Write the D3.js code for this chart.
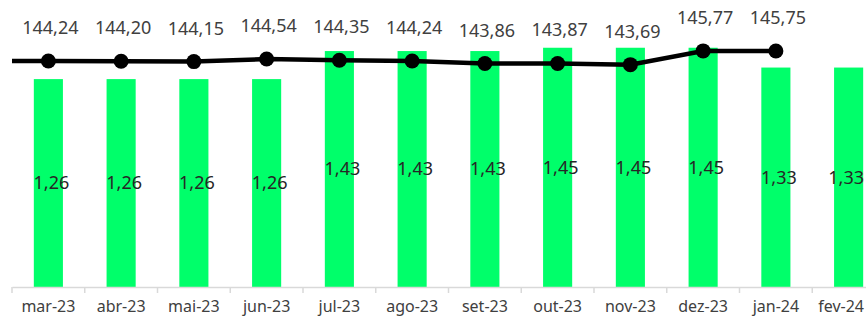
<!DOCTYPE html>
<html>
<head>
<meta charset="utf-8">
<script src="https://cdn.jsdelivr.net/npm/d3@7"></script>
<style>
  body { margin: 0; background: #fff; }
  text { font-family: "Noto Sans", sans-serif; }
</style>
</head>
<body>
<div class="canvas"></div>
<script>
// Data
const months = ['mar-23', 'abr-23', 'mai-23', 'jun-23', 'jul-23', 'ago-23', 'set-23', 'out-23', 'nov-23', 'dez-23', 'jan-24', 'fev-24']
const barValues = [1.26, 1.26, 1.26, 1.26, 1.43, 1.43, 1.43, 1.45, 1.45, 1.45, 1.33, 1.33]
const lineValues = [144.24, 144.20, 144.15, 144.54, 144.35, 144.24, 143.86, 143.87, 143.69, 145.77, 145.75]

const fmt = v => d3.format(',.2f')(v).replace('.', ',')

// Svg
const width = 866, height = 317
const svg = d3.select('.canvas')
    .append('svg')
        .attr('width', width)
        .attr('height', height)

const plot = {left: 12, right: 885, top: 23, bottom: 287}

// Scales
const x = d3.scaleBand()
    .domain(months)
    .range([plot.left, plot.right])
    .paddingInner(0.6)
    .paddingOuter(0.3)

const xb = d3.scaleBand()
    .domain(months)
    .range([plot.left, plot.right])

const y = d3.scaleLinear()
    .domain([0, 1.6])
    .range([plot.bottom, plot.top])

const y2 = d3.scaleLinear()
    .domain([110, 150])
    .range([plot.bottom, plot.top])

// Bars
svg.append('g').selectAll('rect')
    .data(barValues)
    .enter()
    .append('rect')
        .attr('x', (d, i) => x(months[i]))
        .attr('width', x.bandwidth())
        .attr('y', d => y(d))
        .attr('height', d => y(0) - y(d))
        .attr('fill', '#00ff6a')

// Bar labels (centred in the bar)
svg.append('g').attr('class', 'fit').selectAll('text')
    .data(barValues)
    .enter()
    .append('text')
        .attr('x', (d, i) => xb(months[i]) + xb.bandwidth() / 2 + 3)
        .attr('y', d => (y(d) + y(0)) / 2)
        .attr('dy', '0.35em')
        .attr('text-anchor', 'middle')
        .attr('font-size', 18)
        .attr('fill', '#262626')
        .text(d => fmt(d))

// X axis
const xAxis = d3.axisBottom(xb).tickSize(0).tickPadding(14)
const gx = svg.append('g')
    .attr('class', 'fit')
    .attr('transform', `translate(0, ${plot.bottom})`)
    .call(xAxis)
gx.select('.domain').attr('stroke', '#d9d9d9').attr('stroke-width', 1.5)
gx.selectAll('.tick text')
    .attr('font-size', 16)
    .attr('fill', '#404040')
    .attr('font-family', '"Noto Sans", sans-serif')

// Tick marks between categories
gx.append('g').selectAll('line')
    .data(months)
    .enter()
    .append('line')
        .attr('x1', d => xb(d))
        .attr('x2', d => xb(d))
        .attr('y1', 0)
        .attr('y2', 6)
        .attr('stroke', '#d9d9d9')
        .attr('stroke-width', 1.5)

// Line (starts at the plot's left edge like the original)
const cx = i => xb(months[i]) + xb.bandwidth() / 2
const linePts = [[plot.left, y2(lineValues[0])]]
    .concat(lineValues.map((d, i) => [cx(i), y2(d)]))

svg.append('path')
    .attr('d', d3.line()(linePts))
    .attr('fill', 'none')
    .attr('stroke', '#000')
    .attr('stroke-width', 4.5)

svg.append('g').selectAll('circle')
    .data(lineValues)
    .enter()
    .append('circle')
        .attr('cx', (d, i) => cx(i))
        .attr('cy', d => y2(d))
        .attr('r', 7.5)
        .attr('fill', '#000')

// Line labels
svg.append('g').selectAll('text')
    .data(lineValues)
    .enter()
    .append('text')
        .attr('x', (d, i) => cx(i) + 2)
        .attr('y', d => y2(d) - 27)
        .attr('text-anchor', 'middle')
        .attr('font-size', 18)
        .attr('fill', '#404040')
        .text(d => fmt(d))

// Keep labels near the right edge inside the picture
svg.selectAll('.fit text').each(function () {
    const b = this.getBBox()
    const ctm = this.getCTM()
    const right = ctm.e + b.x + b.width
    if (right > width - 2) {
        const t = d3.select(this)
        t.attr('x', (+t.attr('x') || 0) - (right - (width - 2)))
    }
})
</script>
</body>
</html>
